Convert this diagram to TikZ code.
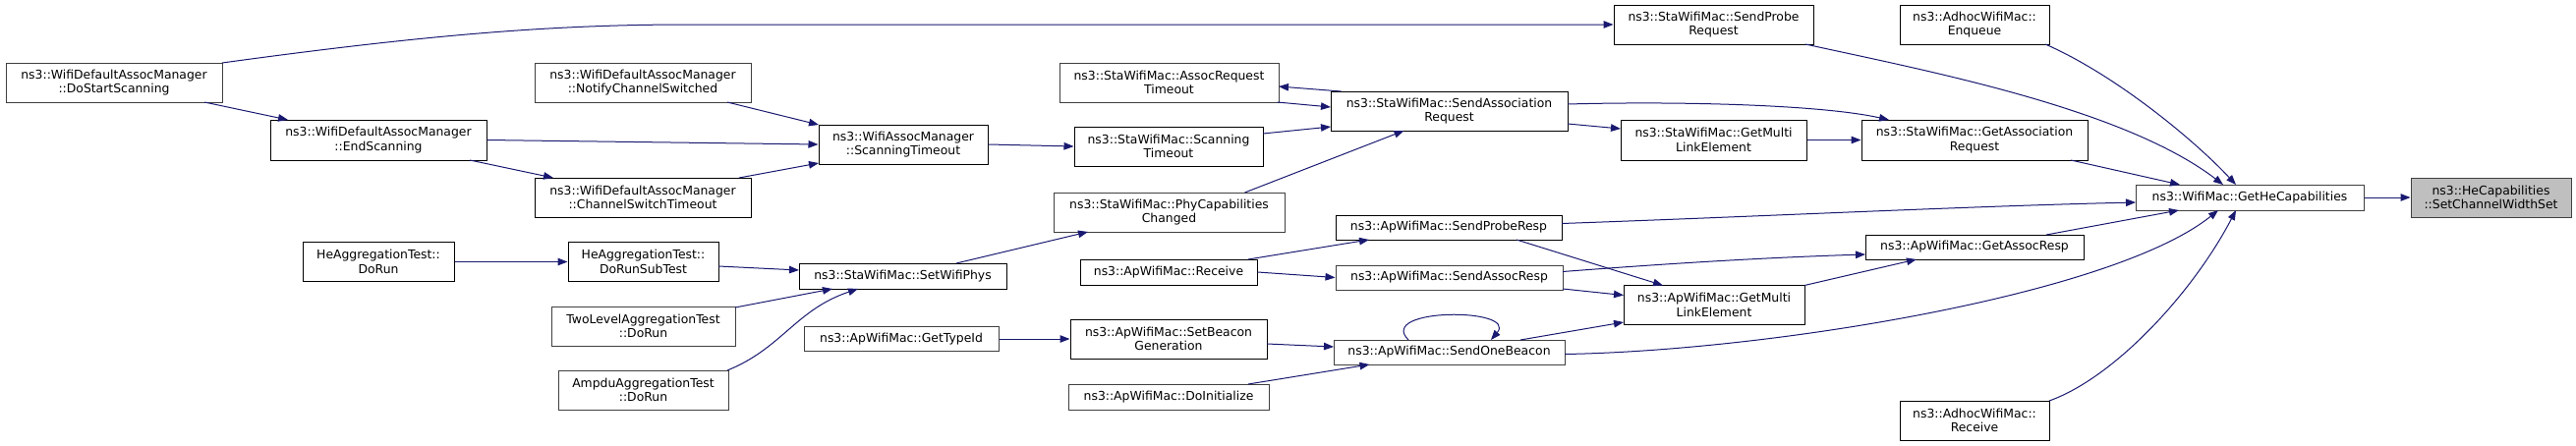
\documentclass[tikz,border=0pt]{standalone}
\usepackage{fontspec}
\setmainfont{DejaVu Sans}
\usetikzlibrary{arrows.meta,calc}
\definecolor{edgeblue}{HTML}{191970}
\definecolor{boxgray}{HTML}{404040}
\definecolor{hlfill}{HTML}{BFBFBF}
\tikzset{
  fn/.style={draw=black, line width=1pt, fill=white, rectangle, inner sep=0pt, align=center,
    font=\fontsize{12.4}{14.7}\selectfont},
  fng/.style={fn, draw=boxgray},
  call/.style={draw=edgeblue, line width=1pt, -{Triangle[length=10pt,width=7.5pt]}, fill=none},
}
\begin{document}
\begin{tikzpicture}[x=1pt,y=-1pt]
\useasboundingbox (0,0) rectangle (2621,453);
% nodes
\node[fng, minimum width=220, minimum height=40] (dss) at (116,84) {ns3::WifiDefaultAssocManager\\::DoStartScanning};
\node[fn, minimum width=220, minimum height=41] (es) at (385,142.5) {ns3::WifiDefaultAssocManager\\::EndScanning};
\node[fng, minimum width=220, minimum height=40] (ncs) at (654,84) {ns3::WifiDefaultAssocManager\\::NotifyChannelSwitched};
\node[fn, minimum width=220, minimum height=40] (cst) at (654,201) {ns3::WifiDefaultAssocManager\\::ChannelSwitchTimeout};
\node[fn, minimum width=172, minimum height=40] (wst) at (919,147) {ns3::WifiAssocManager\\::ScanningTimeout};
\node[fng, minimum width=223, minimum height=40] (art) at (1189.5,84) {ns3::StaWifiMac::AssocRequest\\Timeout};
\node[fn, minimum width=192, minimum height=40] (sst) at (1189,149) {ns3::StaWifiMac::Scanning\\Timeout};
\node[fng, minimum width=235, minimum height=40] (pcc) at (1189.5,216) {ns3::StaWifiMac::PhyCapabilities\\Changed};
\node[fn, minimum width=241, minimum height=40] (sar) at (1474.5,113) {ns3::StaWifiMac::SendAssociation\\Request};
\node[fn, minimum width=203, minimum height=40] (spr) at (1743.5,25) {ns3::StaWifiMac::SendProbe\\Request};
\node[fn, minimum width=189, minimum height=41] (sgml) at (1743.5,142.5) {ns3::StaWifiMac::GetMulti\\LinkElement};
\node[fn, minimum width=230, minimum height=41] (gar) at (2009,142.5) {ns3::StaWifiMac::GetAssociation\\Request};
\node[fn, minimum width=152, minimum height=40] (enq) at (2009,25) {ns3::AdhocWifiMac::\\Enqueue};
\node[fng, minimum width=232, minimum height=26] (ghc) at (2289,201) {ns3::WifiMac::GetHeCapabilities};
\node[fng, fill=hlfill, minimum width=163, minimum height=40] (scws) at (2534.5,201) {ns3::HeCapabilities\\::SetChannelWidthSet};
\node[fn, minimum width=222, minimum height=25] (gares) at (2009,251.5) {ns3::ApWifiMac::GetAssocResp};
\node[fn, minimum width=152, minimum height=40] (arec) at (2009,428) {ns3::AdhocWifiMac::\\Receive};
\node[fn, minimum width=184, minimum height=40] (agml) at (1744,310.5) {ns3::ApWifiMac::GetMulti\\LinkElement};
\node[fn, minimum width=230, minimum height=25] (spresp) at (1474,231.5) {ns3::ApWifiMac::SendProbeResp};
\node[fng, minimum width=231, minimum height=25] (saresp) at (1474.5,282.5) {ns3::ApWifiMac::SendAssocResp};
\node[fng, minimum width=235, minimum height=25] (sob) at (1474.5,358.5) {ns3::ApWifiMac::SendOneBeacon};
\node[fn, minimum width=180, minimum height=26] (aprec) at (1189,277) {ns3::ApWifiMac::Receive};
\node[fn, minimum width=200, minimum height=40] (sbg) at (1189,345) {ns3::ApWifiMac::SetBeacon\\Generation};
\node[fng, minimum width=204, minimum height=26] (doi) at (1189,404) {ns3::ApWifiMac::DoInitialize};
\node[fng, minimum width=198, minimum height=25] (gti) at (917,345) {ns3::ApWifiMac::GetTypeId};
\node[fn, minimum width=211, minimum height=26] (swp) at (918.5,281) {ns3::StaWifiMac::SetWifiPhys};
\node[fn, minimum width=153, minimum height=40] (hrst) at (654.5,266.5) {HeAggregationTest::\\DoRunSubTest};
\node[fng, minimum width=187, minimum height=40] (tl) at (654.5,332) {TwoLevelAggregationTest\\::DoRun};
\node[fng, minimum width=173, minimum height=40] (amp) at (654.5,397) {AmpduAggregationTest\\::DoRun};
\node[fn, minimum width=154, minimum height=40] (hdr) at (385,266.5) {HeAggregationTest::\\DoRun};
% edges
\draw[call] ($(dss)+(110,-20)$) .. controls (430,36) and (560,25) .. (700,25) -- (spr.west);
\draw[call] ($(dss)+(92,20)$) -- ($(es)+(-92,-20.5)$);
\draw[call] (es.east) -- (wst.west);
\draw[call] ($(es)+(93,20.5)$) -- ($(cst)+(-91,-20)$);
\draw[call] ($(ncs)+(86,20)$) -- ($(wst)+(-86,-20)$);
\draw[call] ($(cst)+(98,-20)$) -- ($(wst)+(-86,19)$);
\draw[call] (wst.east) -- (sst.west);
\draw[call] ($(sst)+(96,-13)$) -- ($(sar)+(-120.5,16)$);
\draw[call] ($(sar)+(-110,-20)$) -- ($(art)+(111.5,4)$);
\draw[call] ($(art)+(110,20)$) -- ($(sar)+(-120.5,-4)$);
\draw[call] ($(pcc)+(77,-20)$) -- ($(sar)+(-46,20)$);
\draw[call] ($(sar)+(120.5,-7)$) .. controls (1700,103) and (1850,106) .. ($(gar)+(-87,-20.5)$);
\draw[call] ($(sar)+(120.5,13)$) -- ($(sgml)+(-94.5,-11.5)$);
\draw[call] (sgml.east) -- (gar.west);
\draw[call] ($(gar)+(98,20.5)$) -- ($(ghc)+(-71,-13)$);
\draw[call] ($(spr)+(93.5,20)$) .. controls (1960,72) and (2160,110) .. ($(ghc)+(-27,-13)$);
\draw[call] ($(enq)+(72,20)$) .. controls (2150,75) and (2230,140) .. ($(ghc)+(-14,-13)$);
\draw[call] ($(spresp)+(115,-4)$) .. controls (1800,220) and (2000,210) .. ($(ghc)+(-116,5)$);
\draw[call] ($(gares)+(73,-12.5)$) -- ($(ghc)+(-72,13)$);
\draw[call] ($(sob)+(117.5,2)$) .. controls (1800,357) and (2150,300) .. ($(ghc)+(-32,13)$);
\draw[call] ($(arec)+(76,-20)$) .. controls (2150,385) and (2230,300) .. ($(ghc)+(-14,13)$);
\draw[call] (ghc.east) -- (scws.west);
\draw[call] ($(swp)+(54.5,-13)$) -- ($(pcc)+(-82.5,20)$);
\draw[call] (hdr.east) -- (hrst.west);
\draw[call] ($(hrst)+(76.5,4.5)$) -- ($(swp)+(-105.5,-6)$);
\draw[call] ($(tl)+(93.5,-19)$) -- ($(swp)+(-71.5,13)$);
\draw[call] ($(amp)+(85.5,-20)$) .. controls (795,355) and (810,315) .. ($(swp)+(-45.5,13)$);
\draw[call] ($(aprec)+(81,-13)$) -- ($(spresp)+(-81,12.5)$);
\draw[call] (aprec.east) -- (saresp.west);
\draw[call] ($(spresp)+(69,12.5)$) -- ($(agml)+(-52,-20)$);
\draw[call] ($(saresp)+(115.5,11.5)$) -- ($(agml)+(-92,-10)$);
\draw[call] ($(saresp)+(115.5,-6)$) .. controls (1700,268) and (1800,262) .. ($(gares)+(-111,7.5)$);
\draw[call] ($(agml)+(92,-20)$) -- ($(gares)+(-59,12.5)$);
\draw[call] ($(sob)+(72.5,-12.5)$) -- ($(agml)+(-92,17.5)$);
\draw[call] ($(sob)+(-41.5,-12.5)$) .. controls (1400,313) and (1545,313) .. ($(sob)+(42.5,-12.5)$);
\draw[call] (gti.east) -- (sbg.west);
\draw[call] ($(sbg)+(100,5)$) -- ($(sob)+(-117.5,-5.5)$);
\draw[call] ($(doi)+(81,-13)$) -- ($(sob)+(-81,12.5)$);
\end{tikzpicture}
\end{document}
